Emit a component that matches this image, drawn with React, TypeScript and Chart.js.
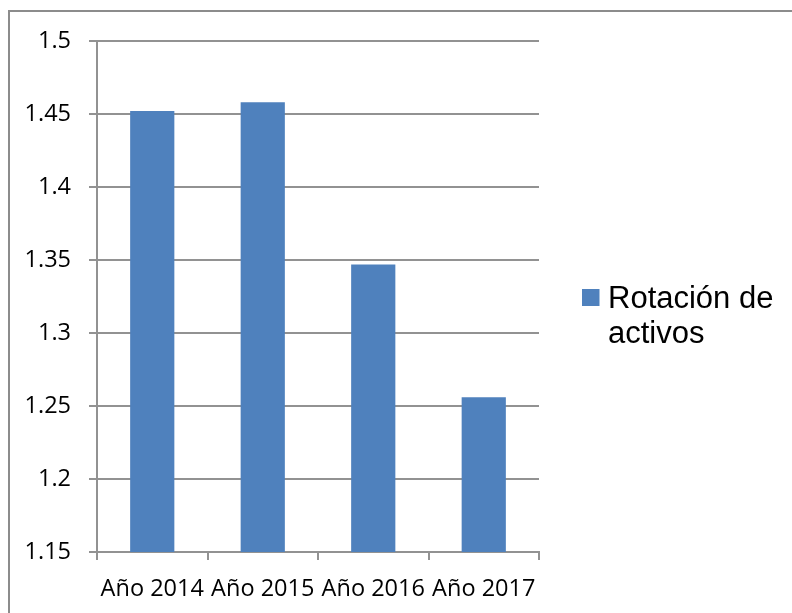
import React, { useEffect, useRef } from "react";
import { Chart, registerables } from "chart.js";

Chart.register(...registerables);

const categories = ["Año 2014", "Año 2015", "Año 2016", "Año 2017"];
const seriesLines = ["Rotación de", "activos"];
const rotacionActivos = [1.452, 1.458, 1.347, 1.256];
const yTicks = [1.15, 1.2, 1.25, 1.3, 1.35, 1.4, 1.45, 1.5];

const BAR = "#4F81BD";
const GRID = "#929292";
const TICK_FONT = { family: "'Open Sans', sans-serif", size: 23.5 };

export default function App() {
  const ref = useRef<HTMLCanvasElement>(null);

  useEffect(() => {
    if (!ref.current) return;
    const sideLegend = {
      id: "sideLegend",
      afterDraw(chart: any) {
        const { ctx, chartArea } = chart;
        const cy = (chartArea.top + chartArea.bottom) / 2;
        const bx = chartArea.right + 43;
        ctx.save();
        ctx.fillStyle = BAR;
        ctx.fillRect(bx, cy - 7.5, 17.5, 17);
        ctx.fillStyle = "#000";
        ctx.font = "31px 'Liberation Sans', Arial, sans-serif";
        ctx.textBaseline = "alphabetic";
        ctx.textAlign = "left";
        seriesLines.forEach((line, i) => {
          ctx.fillText(line, bx + 26, cy + 11.5 + i * 35);
        });
        ctx.restore();
      },
    };

    const chart = new Chart(ref.current, {
      type: "bar",
      data: {
        labels: categories,
        datasets: [
          {
            label: seriesLines.join(" "),
            data: rotacionActivos,
            backgroundColor: BAR,
            borderWidth: 0,
            barPercentage: 0.4,
            categoryPercentage: 1,
          },
        ],
      },
      options: {
        responsive: false,
        animation: false,
        devicePixelRatio: 1,
        layout: { padding: { top: 41, right: 253, left: 0, bottom: 0 } },
        plugins: {
          legend: { display: false },
          tooltip: { enabled: false },
        },
        scales: {
          x: {
            grid: {
              drawOnChartArea: false,
              drawTicks: true,
              tickLength: 8,
              color: GRID,
              lineWidth: 2,
            },
            border: { color: GRID, width: 2 },
            ticks: {
              color: "#000",
              font: TICK_FONT,
              padding: 15,
              maxRotation: 0,
              minRotation: 0,
              autoSkip: false,
            },
            afterFit: (s: any) => {
              s.height = 61;
            },
          },
          y: {
            min: 1.15,
            max: 1.5,
            afterBuildTicks: (s: any) => {
              s.ticks = yTicks.map((v) => ({ value: v }));
            },
            grid: { color: GRID, lineWidth: 2, tickLength: 8 },
            border: { color: GRID, width: 2 },
            ticks: {
              color: "#000",
              font: TICK_FONT,
              padding: 18,
              callback: (v: any) => String(Number(Number(v).toFixed(2))),
            },
            afterFit: (s: any) => {
              s.width = 97;
            },
          },
        },
      },
      plugins: [sideLegend],
    });
    return () => chart.destroy();
  }, []);

  return (
    <div
      style={{
        position: "absolute",
        left: 0,
        top: 0,
        width: 792,
        height: 613,
        overflow: "hidden",
        background: "#fff",
      }}
    >
      <div
        style={{
          position: "absolute",
          left: 8,
          top: 10,
          width: 900,
          height: 900,
          borderTop: "2px solid #8c8c8c",
          borderLeft: "2px solid #8c8c8c",
        }}
      />
      <canvas
        ref={ref}
        width={792}
        height={613}
        style={{ position: "absolute", left: 0, top: 0, width: 792, height: 613 }}
      />
    </div>
  );
}
